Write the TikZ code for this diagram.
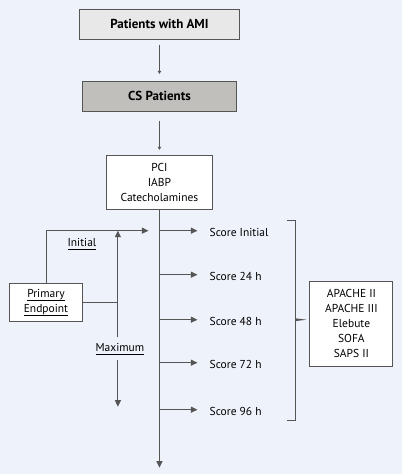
\documentclass[tikz,border=0pt]{standalone}
\usepackage{fontspec}
\setmainfont{PT Sans}
\usepackage{tikz}
\usetikzlibrary{positioning,arrows.meta}

\definecolor{bgblue}{RGB}{238,242,250}
\definecolor{amigray}{RGB}{232,232,232}
\definecolor{csgray}{RGB}{192,191,188}
\definecolor{linegray}{RGB}{85,85,85}
\newcommand\ulbox[1]{\setbox0\hbox{#1}\leavevmode\rlap{\rule[-3.4pt]{\wd0}{0.8pt}}\box0}

\begin{document}
\begin{tikzpicture}[x=1pt,y=-1pt,
		font=\fontsize{11.5}{15}\selectfont,
		line/.style={draw=linegray,line width=0.9pt},
		box/.style={line,fill=white,align=center,inner sep=0pt},
		lbl/.style={inner sep=0pt,align=center},
		tinytip/.style={-{Triangle[width=3.5pt,length=3pt]}},
		bigtip/.style={-{Triangle[width=6pt,length=6.5pt]}}]
			\fill[bgblue] (0,0) rectangle (402,474);
			\useasboundingbox (0,0) rectangle (402,474);
			\coordinate (o) at (0,0);
			%% top of the chart
			\node[box,fill=amigray,minimum width=160pt,minimum height=30pt,below right=9pt and 79pt of o,font=\fontsize{13}{15}\selectfont\bfseries] (ami) {Patients with AMI};
			\node[box,fill=csgray,minimum width=154pt,minimum height=30pt,below=41pt of ami,font=\fontsize{13}{15}\selectfont\bfseries] (cs) {CS Patients};
			\node[box,minimum width=106pt,minimum height=54pt,below=43pt of cs] (tx) {PCI\\IABP\\Catecholamines};
			\draw[line,tinytip,shorten <=5pt,shorten >=7pt] (ami) -- (cs);
			\draw[line,tinytip,shorten <=9pt,shorten >=5pt] (cs) -- (tx);
			%% time line
			\coordinate[below=258pt of tx.south] (end);
			\coordinate[below=21pt of tx.south] (s0);
			\coordinate[below=44pt of s0] (s1);
			\coordinate[below=45pt of s1] (s2);
			\coordinate[below=43pt of s2] (s3);
			\coordinate[below=47pt of s3] (s4);
			\draw[line,bigtip] (tx) -- (end);
			\node[lbl,right=50pt of s0,yshift=-2pt] (sc0) {Score Initial};
			\node[lbl,right=50pt of s1,yshift=-2pt] (sc1) {Score 24 h};
			\node[lbl,right=50pt of s2,yshift=-2pt] (sc2) {Score 48 h};
			\node[lbl,right=50pt of s3,yshift=-2pt] (sc3) {Score 72 h};
			\node[lbl,right=50pt of s4,yshift=-2pt] (sc4) {Score 96 h};
			\draw[line,bigtip,shorten >=12pt] (s0) -- (s0 -| sc0.west);
			\draw[line,bigtip,shorten >=12pt] (s1) -- (s1 -| sc1.west);
			\draw[line,bigtip,shorten >=12pt] (s2) -- (s2 -| sc2.west);
			\draw[line,bigtip,shorten >=12pt] (s3) -- (s3 -| sc3.west);
			\draw[line,bigtip,shorten >=12pt] (s4) -- (s4 -| sc4.west);
			%% bracket and scores
			\coordinate[right=136pt of s2] (brmid);
			\coordinate[above right=99pt and -8pt of brmid] (brtop);
			\coordinate[below right=101pt and -8pt of brmid] (brbot);
			\node[box,minimum width=83pt,minimum height=85pt,right=14pt of brmid,yshift=-4pt] (scores) {APACHE II\\APACHE III\\Elebute\\SOFA\\SAPS II};
			\draw[line] (brtop) -| (brmid) |- (brbot);
			\fill[linegray] ([yshift=-1.4pt]brmid) -- ([xshift=11pt]brmid) -- ([yshift=1.4pt]brmid) -- cycle;
			%% primary endpoint
			\node[box,minimum width=73pt,minimum height=38pt,below right=283pt and 9pt of o] (ep) {\ulbox{Primary}\\\ulbox{Endpoint}};
			\coordinate (up) at (ep.north |- s0);
			\draw[line,bigtip,shorten >=11pt] (ep.north) -- (up) -- (s0);
			\coordinate[above right=19pt and 35pt of ep.east] (mx);
			\coordinate (mxtop) at (mx |- s0);
			\node[lbl,below right=47pt and 37pt of ep.east,anchor=center] (maxl) {\ulbox{Maximum}};
			\node[lbl,below right=13pt and 36pt of up,anchor=center] (initl) {\ulbox{Initial}};
			\coordinate[below=176pt of mxtop] (mxbot);
			\draw[line] (ep.east) -- (ep.east -| mx);
			\draw[line,bigtip] ([yshift=-35pt]ep.east -| mx) -- (mxtop);
			\draw[line,bigtip] ([yshift=-5pt]maxl.south -| mx) -- (mxbot);
\end{tikzpicture}
\end{document}
